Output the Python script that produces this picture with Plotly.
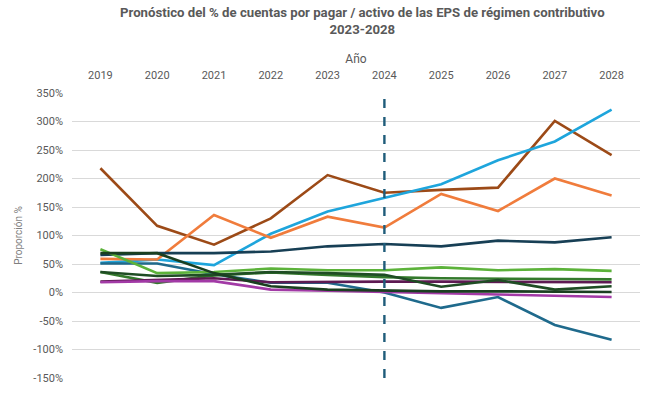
import plotly.graph_objects as go

years = ["2019", "2020", "2021", "2022", "2023", "2024", "2025", "2026", "2027", "2028"]
forecast_start = "2024"

# % cuentas por pagar / activo (values in percent)
brown = [218, 117, 84, 130, 206, 175, 180, 184, 301, 241]
light_blue = [52, 58, 48, 103, 142, 166, 190, 232, 265, 321]
orange = [59, 58, 136, 96, 133, 114, 173, 143, 200, 170]
navy = [66, 69, 69, 72, 81, 85, 81, 91, 88, 97]
teal = [51, 51, 32, 17, 17, 0, -27, -8, -57, -83]
light_green = [76, 34, 36, 42, 39, 39, 44, 39, 41, 38]
very_dark_green = [69, 69, 34, 11, 5, 3, 2, 2, 1, 1]
dark_green = [36, 29, 31, 36, 34, 31, 10, 22, 5, 11]
mid_green = [36, 17, 30, 35, 31, 27, 25, 24, 23, 23]
plum = [19, 22, 25, 18, 19, 19, 19, 19, 18, 18]
magenta = [18, 20, 20, 5, 3, 1, -2, -3, -5, -8]

series = [
    ("s1", brown, "#9c4a17"),
    ("s2", light_blue, "#1ea5dc"),
    ("s3", orange, "#f07c3c"),
    ("s4", navy, "#173f55"),
    ("s5", teal, "#1f6a8c"),
    ("s6", light_green, "#5cb23a"),
    ("s7", mid_green, "#347a2c"),
    ("s8", plum, "#5d1a52"),
    ("s9", magenta, "#a23aa6"),
    ("s10", dark_green, "#1f4d24"),
    ("s11", very_dark_green, "#1a3f20"),
]

y_ticks = [350, 300, 250, 200, 150, 100, 50, 0, -50, -100, -150]
y_ticktext = [f"{v}%" for v in y_ticks]

fig = go.Figure()
for name, vals, color in series:
    fig.add_trace(go.Scatter(
        x=years, y=vals, mode="lines", name=name,
        line=dict(color=color, width=2.6),
        showlegend=False,
    ))

fig.add_vline(x=years.index(forecast_start), line=dict(color="#1f5c7a", width=2.4, dash="dash"))

fig.add_annotation(
    text="<b>Pronóstico del % de cuentas por pagar / activo de las EPS de régimen contributivo<br>2023-2028</b>",
    xref="paper", x=0.5 + 6 / 568, xanchor="center",
    yref="paper", y=1 + 54 / 285, yanchor="bottom",
    showarrow=False, align="center",
    font=dict(size=13.2, color="#595959"),
)

fig.update_layout(
    width=653, height=402,
    margin=dict(l=72, r=13, t=93, b=24, autoexpand=False),
    paper_bgcolor="white", plot_bgcolor="white",
    font=dict(family="Roboto, Arial, sans-serif", color="#595959"),
    xaxis=dict(
        type="category", side="top", range=[-0.5, len(years) - 0.5],
        showgrid=False, zeroline=False, showline=False, automargin=False,
        ticks="", tickfont=dict(size=11, color="#595959"), ticklabelstandoff=11,
        title=dict(text="Año", font=dict(size=12, color="#595959"), standoff=2),
    ),
    yaxis=dict(
        range=[-150, 350], automargin=False,
        tickvals=y_ticks, ticktext=y_ticktext,
        showgrid=True, gridcolor="#d9d9d9", gridwidth=1,
        zeroline=False, showline=False, ticks="",
        tickfont=dict(size=11, color="#595959"), ticklabelstandoff=8,
        title=dict(text="Proporción %", font=dict(size=10, color="#7f7f7f"), standoff=8),
    ),
)

fig.write_html("out.html", config={"displayModeBar": False},
               post_script="document.body.style.margin='0';")
